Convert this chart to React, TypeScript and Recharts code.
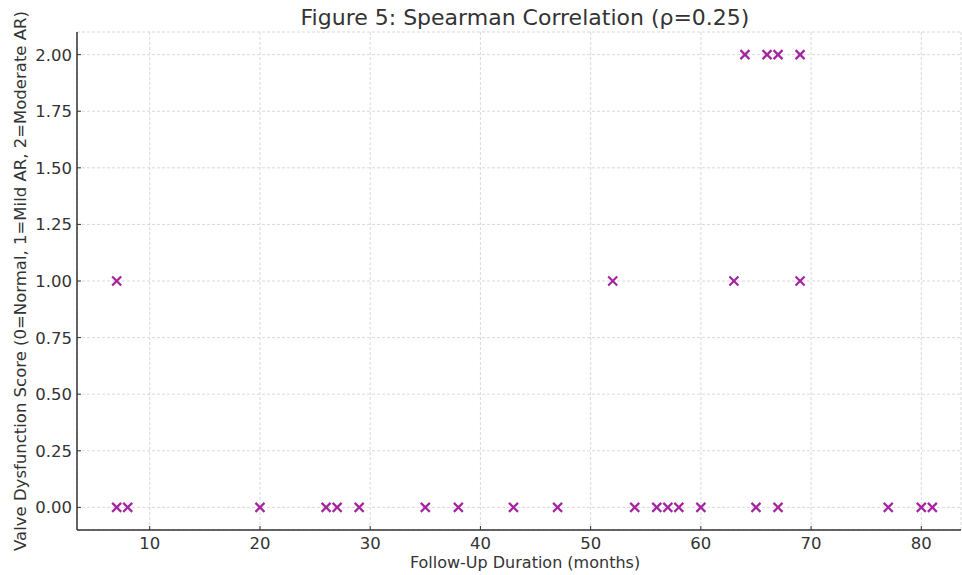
import { ScatterChart, Scatter, XAxis, YAxis, CartesianGrid } from 'recharts';

// follow-up (months) vs valve dysfunction score
const normalMonths = [7, 8, 20, 26, 27, 29, 35, 38, 43, 47, 54, 56, 57, 58, 60, 65, 67, 77, 80, 81];
const mildMonths = [7, 52, 63, 69];
const moderateMonths = [64, 66, 67, 69];

const X_TICKS = [10, 20, 30, 40, 50, 60, 70, 80];
const Y_TICKS = [0, 0.25, 0.5, 0.75, 1, 1.25, 1.5, 1.75, 2];

const points = [
  ...normalMonths.map((m) => ({ x: m, y: 0 })),
  ...mildMonths.map((m) => ({ x: m, y: 1 })),
  ...moderateMonths.map((m) => ({ x: m, y: 2 })),
];

const FONT = 'DejaVu Sans, sans-serif';
const TEXT = '#333';
const MARK = '#a4249f';
const FS = 16.5;

function XTick(props: any) {
  const { x, y, payload } = props;
  return (
    <g>
      <line x1={x} x2={x} y1={y} y2={y - 4} stroke={TEXT} strokeWidth={1} />
      <text x={x} y={y + 19} textAnchor="middle" fontSize={FS} fill={TEXT} fontFamily={FONT}>
        {payload.value}
      </text>
    </g>
  );
}

function YTick(props: any) {
  const { x, y, payload } = props;
  return (
    <g>
      <line x1={x} x2={x + 4} y1={y} y2={y} stroke={TEXT} strokeWidth={1} />
      <text x={x - 5} y={y + 6} textAnchor="end" fontSize={FS} fill={TEXT} fontFamily={FONT}>
        {payload.value.toFixed(2)}
      </text>
    </g>
  );
}

// matplotlib-style "x" marker
function Cross(props: any) {
  const { cx, cy } = props;
  const r = 4.5;
  return (
    <g stroke={MARK} strokeWidth={2.2}>
      <line x1={cx - r} y1={cy - r} x2={cx + r} y2={cy + r} />
      <line x1={cx - r} y1={cy + r} x2={cx + r} y2={cy - r} />
    </g>
  );
}

export default function App() {
  return (
    <div style={{ position: 'absolute', left: 0, top: 0, width: 962, height: 575, background: '#fff' }}>
      <ScatterChart width={962} height={575} margin={{ top: 32, right: 1, bottom: 0, left: 0 }}>
        <text x={525} y={25} textAnchor="middle" fontSize={22} fill={TEXT} fontFamily={FONT}>
          Figure 5: Spearman Correlation (ρ=0.25)
        </text>
        <text x={525} y={568} textAnchor="middle" fontSize={16} fill={TEXT} fontFamily={FONT}>
          Follow-Up Duration (months)
        </text>
        <CartesianGrid stroke="#d9d9d9" strokeDasharray="3 2" />
        <XAxis
          type="number"
          dataKey="x"
          domain={[3.4, 83.6]}
          ticks={X_TICKS}
          height={45}
          tickSize={0}
          tickMargin={0}
          tick={<XTick />}
          stroke={TEXT}
          strokeWidth={1.5}
          allowDataOverflow
        />
        <YAxis
          type="number"
          dataKey="y"
          domain={[-0.1, 2.1]}
          ticks={Y_TICKS}
          width={77}
          tickSize={0}
          tickMargin={0}
          tick={<YTick />}
          stroke={TEXT}
          strokeWidth={1.5}
          allowDataOverflow
          label={{ value: 'Valve Dysfunction Score (0=Normal, 1=Mild AR, 2=Moderate AR)', angle: -90, position: 'insideLeft', offset: 20, fontSize: FS, fill: TEXT, fontFamily: FONT, style: { textAnchor: 'middle' } }}
        />
        <Scatter data={points} shape={<Cross />} isAnimationActive={false} />
      </ScatterChart>
    </div>
  );
}
